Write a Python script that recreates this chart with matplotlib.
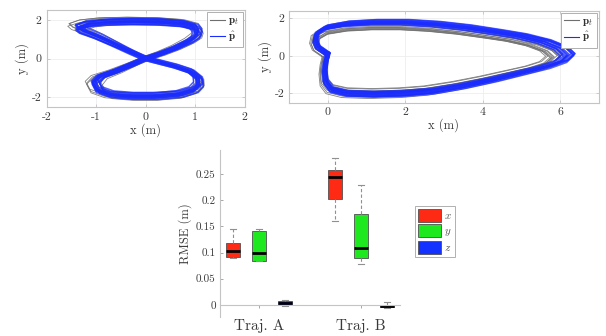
import matplotlib
matplotlib.use('Agg')
import matplotlib.pyplot as plt
import numpy as np
from matplotlib.patches import Patch
from matplotlib.lines import Line2D

plt.rcParams['font.family'] = 'cmr10'
plt.rcParams['mathtext.fontset'] = 'cm'
plt.rcParams['axes.formatter.use_mathtext'] = True
plt.rcParams['axes.unicode_minus'] = True

# ---------------- data ----------------
# Trajectory A (figure eight) waypoints
trajA_x = [0.0, 0.3, 0.6, 0.88, 1.02, 1.05, 0.98, 0.72, 0.25, -0.3, -0.8, -1.16, -1.35,
           -1.28, -1.0, -0.65, -0.3, 0.0, 0.3, 0.6, 0.9, 1.06, 1.07, 0.97, 0.68,
           0.2, -0.3, -0.7, -0.95, -1.03, -0.92, -0.6, -0.3, 0.0]
trajA_y = [0.0, 0.25, 0.55, 0.9, 1.15, 1.4, 1.63, 1.81, 1.9, 1.92, 1.89, 1.79, 1.62,
           1.45, 1.17, 0.76, 0.34, 0.0, -0.2, -0.4, -0.66, -1.0, -1.33, -1.6, -1.83,
           -1.93, -1.93, -1.85, -1.62, -1.22, -0.92, -0.64, -0.33, 0.0]
# lap to lap variation of trajectory A (scale x, scale y, shift x, shift y)
A_gray_sx = [1.00, 1.08, 0.93, 1.12, 1.03, 0.96, 1.06, 0.91, 1.10, 1.01, 0.97, 1.05]
A_gray_sy = [1.04, 1.08, 0.94, 1.10, 0.99, 1.06, 0.92, 1.09, 1.00, 1.07, 0.96, 1.02]
A_gray_dx = [0.02, -0.08, 0.05, -0.04, 0.08, -0.06, 0.00, 0.06, -0.09, 0.03, -0.02, 0.04]
A_gray_dy = [0.04, 0.06, -0.05, 0.02, -0.07, 0.09, 0.00, -0.03, 0.05, -0.08, 0.07, -0.04]
A_blue_sx = [0.99, 1.04, 0.95, 1.06, 1.00, 0.96, 1.05, 1.01, 0.94, 1.03, 0.98, 1.02]
A_blue_sy = [1.00, 1.05, 0.94, 1.03, 0.97, 1.06, 0.93, 1.01, 0.98, 1.04, 0.95, 1.02]
A_blue_dx = [0.00, 0.05, -0.05, 0.02, -0.04, 0.06, 0.01, -0.06, 0.03, -0.02, 0.04, -0.03]
A_blue_dy = [0.00, -0.06, 0.05, 0.08, -0.08, 0.03, -0.04, 0.07, -0.03, 0.04, 0.09, -0.07]
A_xticks = [-2, -1, 0, 1, 2]
A_xticklabels = ['-2', '-1', '0', '1', '2']
A_yticks = [-2, 0, 2]
A_yticklabels = ['-2', '0', '2']

# Trajectory B (teardrop) waypoints
trajB_x = [0.0, -0.25, -0.32, -0.28, -0.05, 0.5, 1.2, 2.0, 2.8, 3.6, 4.4, 5.0, 5.6, 6.02,
           6.2, 6.02, 5.6, 5.0, 4.3, 3.5, 2.7, 2.0, 1.2, 0.5, 0.1, -0.05, -0.08, -0.05, 0.0]
trajB_y = [0.1, 0.45, 0.8, 1.2, 1.5, 1.7, 1.78, 1.78, 1.68, 1.5, 1.25, 1.05, 0.75, 0.4,
           0.05, -0.3, -0.6, -0.9, -1.25, -1.6, -1.88, -2.0, -2.05, -2.0, -1.8, -1.4,
           -0.8, -0.3, 0.1]
B_gray_sx = [0.98, 0.93, 0.95, 0.90, 1.01, 0.96, 0.92, 0.97, 0.94, 0.99, 0.91, 0.95]
B_gray_sy = [0.98, 0.86, 0.93, 0.82, 1.03, 0.90, 0.85, 0.96, 0.88, 1.00, 0.84, 0.94]
B_gray_dx = [-0.05, 0.05, -0.10, 0.08, -0.15, 0.03, 0.06, -0.08, 0.02, -0.12, 0.07, -0.02]
B_gray_dy = [-0.08, -0.12, -0.15, -0.06, -0.16, -0.09, -0.13, -0.03, -0.10, -0.14, -0.05, -0.11]
B_blue_sx = [1.00, 1.02, 0.98, 1.01, 1.03, 0.97, 1.00, 1.02, 0.99, 1.01, 0.98, 1.03]
B_blue_sy = [1.00, 1.05, 0.95, 1.03, 1.06, 0.94, 1.01, 0.97, 1.04, 0.96, 1.02, 0.99]
B_blue_dx = [0.00, 0.05, -0.06, 0.03, -0.04, 0.06, -0.05, 0.01, 0.04, -0.03, 0.02, -0.01]
B_blue_dy = [0.00, 0.06, -0.05, 0.08, -0.03, 0.04, -0.08, 0.05, -0.02, 0.03, -0.06, 0.07]
B_center_x = -0.3
B_xticks = [0, 2, 4, 6]
B_xticklabels = ['0', '2', '4', '6']
B_yticks = [-2, 0, 2]
B_yticklabels = ['-2', '0', '2']

# RMSE box statistics: [whislo, q1, med, q3, whishi]
trajectories = ['Traj. A', 'Traj. B']
axes_names = ['x', 'y', 'z']
rmse_stats = {
    ('Traj. A', 'x'): [0.0905, 0.0907, 0.1027, 0.1175, 0.146],
    ('Traj. A', 'y'): [0.083, 0.084, 0.0995, 0.141, 0.145],
    ('Traj. A', 'z'): [-0.003, -0.001, 0.004, 0.008, 0.009],
    ('Traj. B', 'x'): [0.160, 0.2017, 0.244, 0.259, 0.282],
    ('Traj. B', 'y'): [0.079, 0.0888, 0.109, 0.173, 0.230],
    ('Traj. B', 'z'): [-0.0055, -0.005, -0.003, -0.001, 0.0046],
}
rmse_ticks = [0, 0.05, 0.1, 0.15, 0.2, 0.25]
rmse_ticklabels = ['0', '0.05', '0.1', '0.15', '0.2', '0.25']
box_colors = {'x': '#ff2a14', 'y': '#1ee81e', 'z': '#1432ff'}

GRAY = '#6e6e6e'
BLUE = '#1a2cff'
SPINE = '#c4c4c4'
TXT = '#3a3a3a'

fig = plt.figure(figsize=(6.06, 3.36), dpi=100)


def style_top(ax):
    for s in ax.spines.values():
        s.set_color(SPINE)
        s.set_linewidth(0.8)
    ax.tick_params(direction='in', length=2.5, width=0.6, color=SPINE,
                   labelcolor=TXT, labelsize=8.5, pad=3.5, top=True, right=True)
    ax.grid(True, color='#eeeeee', linewidth=0.6)
    ax.set_axisbelow(True)


def legend_top(ax, handles):
    leg = ax.legend(handles, [r'$\mathbf{p}_t$', r'$\hat{\mathbf{p}}$'], loc='upper right',
                    fontsize=8, handlelength=1.3, handletextpad=0.3, borderpad=0.3,
                    labelspacing=0.2, borderaxespad=0.2, fancybox=False, framealpha=1)
    leg.get_frame().set_edgecolor('#b0b0b0')
    leg.get_frame().set_linewidth(0.7)
    for t in leg.get_texts():
        t.set_color('#333333')


# ---- Trajectory A ----
ax1 = fig.add_axes([0.077, 0.681, 0.327, 0.289])
style_top(ax1)
xa = np.array(trajA_x)
ya = np.array(trajA_y)
for sx, sy, dx, dy in zip(A_gray_sx, A_gray_sy, A_gray_dx, A_gray_dy):
    ax1.plot(xa * sx + dx, ya * sy + dy, color=GRAY, lw=0.6, alpha=0.85)
for sx, sy, dx, dy in zip(A_blue_sx, A_blue_sy, A_blue_dx, A_blue_dy):
    ax1.plot(xa * sx + dx, ya * sy + dy, color=BLUE, lw=1.2, alpha=0.75)
ax1.set_xlim(-2, 2)
ax1.set_ylim(-2.5, 2.5)
ax1.set_xticks(A_xticks)
ax1.set_xticklabels(A_xticklabels)
ax1.set_yticks(A_yticks)
ax1.set_yticklabels(A_yticklabels)
ax1.set_xlabel('x (m)', fontsize=9, color=TXT, labelpad=1)
ax1.set_ylabel('y (m)', fontsize=9, color=TXT, labelpad=2)
h1 = [Line2D([], [], color=GRAY, lw=0.8), Line2D([], [], color=BLUE, lw=0.8)]
legend_top(ax1, h1)

# ---- Trajectory B ----
ax2 = fig.add_axes([0.477, 0.694, 0.511, 0.274])
style_top(ax2)
xb = np.array(trajB_x)
yb = np.array(trajB_y)
for sx, sy, dx, dy in zip(B_gray_sx, B_gray_sy, B_gray_dx, B_gray_dy):
    ax2.plot((xb - B_center_x) * sx + B_center_x + dx, yb * sy + dy, color=GRAY, lw=0.6, alpha=0.85)
for sx, sy, dx, dy in zip(B_blue_sx, B_blue_sy, B_blue_dx, B_blue_dy):
    ax2.plot((xb - B_center_x) * sx + B_center_x + dx, yb * sy + dy, color=BLUE, lw=1.2, alpha=0.75)
ax2.set_xlim(-1, 7)
ax2.set_ylim(-2.5, 2.4)
ax2.set_xticks(B_xticks)
ax2.set_xticklabels(B_xticklabels)
ax2.set_yticks(B_yticks)
ax2.set_yticklabels(B_yticklabels)
ax2.set_xlabel('x (m)', fontsize=9, color=TXT, labelpad=1)
ax2.set_ylabel('y (m)', fontsize=9, color=TXT, labelpad=2)
legend_top(ax2, h1)

# ---- RMSE boxplot ----
ax3 = fig.add_axes([0.363, 0.057, 0.297, 0.496])
offsets = {'x': -0.254, 'y': 0.0, 'z': 0.254}
for ti, traj in enumerate(trajectories):
    for name in axes_names:
        wl, q1, med, q3, wh = rmse_stats[(traj, name)]
        st = [dict(whislo=wl, q1=q1, med=med, q3=q3, whishi=wh, fliers=[])]
        ax3.bxp(st, positions=[ti + 1 + offsets[name]], widths=0.137, patch_artist=True,
                showfliers=False, manage_ticks=False,
                boxprops=dict(facecolor=box_colors[name], edgecolor='#505050', linewidth=0.6),
                medianprops=dict(color='black', linewidth=2.0),
                whiskerprops=dict(color='#909090', linewidth=0.8, linestyle=(0, (3, 2))),
                capprops=dict(color='#909090', linewidth=0.8),
                capwidths=0.06)
ax3.set_xlim(0.62, 2.38)
ax3.set_ylim(-0.023, 0.296)
for s in ['top', 'right']:
    ax3.spines[s].set_visible(False)
ax3.spines['left'].set_color(SPINE)
ax3.spines['bottom'].set_color(SPINE)
ax3.spines['bottom'].set_position(('data', 0))
ax3.spines['left'].set_linewidth(0.8)
ax3.spines['bottom'].set_linewidth(0.8)
ax3.set_yticks(rmse_ticks)
ax3.set_yticklabels(rmse_ticklabels)
ax3.set_xticks([1, 2])
ax3.set_xticklabels(trajectories)
ax3.tick_params(axis='y', direction='in', length=2.5, width=0.6, color='#999999',
                labelcolor=TXT, labelsize=8, pad=3)
ax3.tick_params(axis='x', direction='out', length=2.5, width=0.6, color='#999999',
                labelcolor=TXT, labelsize=11, pad=8)
ax3.set_ylabel('RMSE (m)', fontsize=9, color=TXT, labelpad=3)

handles = [Patch(facecolor=box_colors[n], edgecolor='#505050', linewidth=0.6) for n in axes_names]
leg3 = fig.legend(handles, [r'$x$', r'$y$', r'$z$'], loc='upper left',
                  bbox_to_anchor=(415 / 606, 1 - 206 / 336), fontsize=8,
                  handlelength=2.0, handleheight=1.4, handletextpad=0.3, borderpad=0.3,
                  labelspacing=0.2, fancybox=False, framealpha=1, borderaxespad=0)
leg3.get_frame().set_edgecolor('#b0b0b0')
leg3.get_frame().set_linewidth(0.7)
for t in leg3.get_texts():
    t.set_color('#555555')

fig.savefig('out.png', dpi=100)
